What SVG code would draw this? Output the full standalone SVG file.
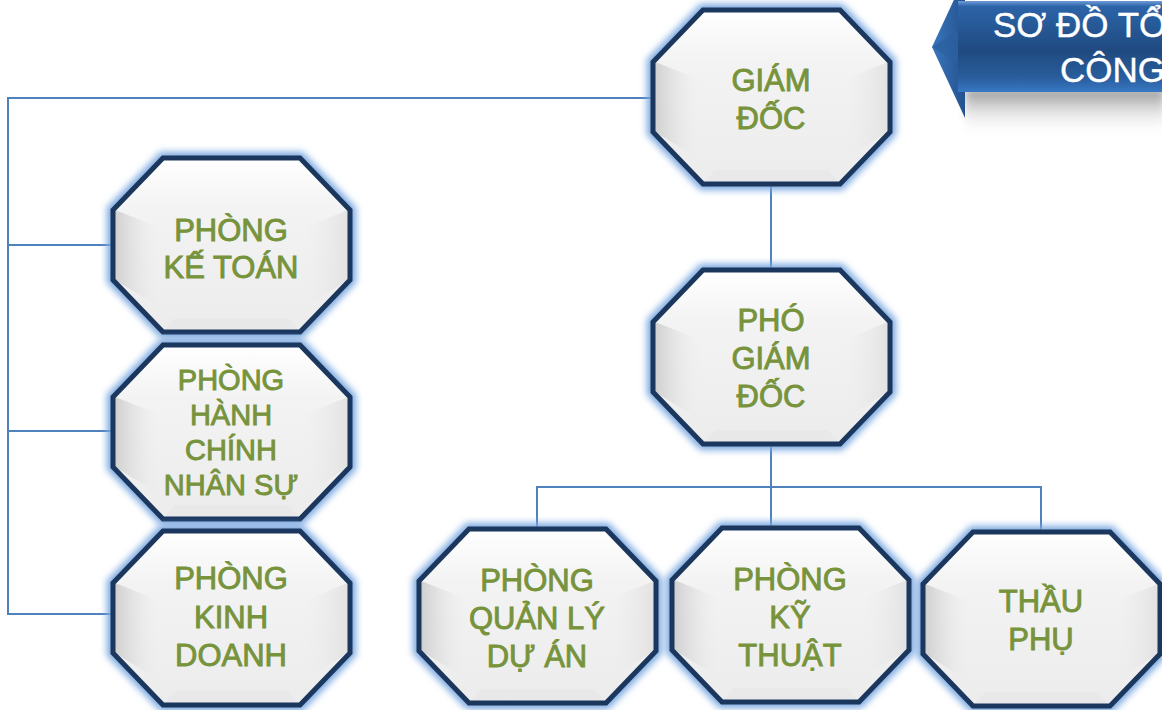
<svg xmlns="http://www.w3.org/2000/svg" xmlns:xlink="http://www.w3.org/1999/xlink" width="1162" height="710" viewBox="0 0 1162 710">
  <style>
    .conn { fill: none; stroke: #4F81BD; stroke-width: 2; }
    .lbl { font-family: "Liberation Sans", Arial, sans-serif; font-size: 31px; fill: #77933C; stroke: #77933C; stroke-width: 0.9; text-anchor: middle; }
    .lbl.sm { font-size: 29px; }
    .title { font-family: "Liberation Sans", Arial, sans-serif; font-size: 35px; fill: #FFFFFF; stroke: #FFFFFF; stroke-width: 0.4; }
  </style>
  <defs>
    <filter id="glow" x="-15%" y="-15%" width="130%" height="130%">
      <feGaussianBlur stdDeviation="3.5"/>
    </filter>
    <filter id="soft" x="-20%" y="-50%" width="140%" height="200%">
      <feGaussianBlur stdDeviation="5"/>
    </filter>
    <linearGradient id="baseFill" x1="0" y1="0" x2="0" y2="1">
      <stop offset="0" stop-color="#FFFFFF"/>
      <stop offset="0.3" stop-color="#F3F3F3"/>
      <stop offset="1" stop-color="#ECECEC"/>
    </linearGradient>
    <linearGradient id="leftFacet" x1="0" y1="0" x2="1" y2="0">
      <stop offset="0" stop-color="#CFCFCF"/>
      <stop offset="1" stop-color="#EDEDED" stop-opacity="0"/>
    </linearGradient>
    <linearGradient id="rightFacet" x1="1" y1="0" x2="0" y2="0">
      <stop offset="0" stop-color="#E2E2E2"/>
      <stop offset="1" stop-color="#EDEDED" stop-opacity="0"/>
    </linearGradient>
    <linearGradient id="barFill" x1="0" y1="0" x2="0" y2="1">
      <stop offset="0" stop-color="#6E9BD6"/>
      <stop offset="0.06" stop-color="#2C64A8"/>
      <stop offset="0.55" stop-color="#1F4A80"/>
      <stop offset="0.85" stop-color="#2A5E9E"/>
      <stop offset="1" stop-color="#3878C4"/>
    </linearGradient>
    <linearGradient id="headFill" x1="0" y1="0" x2="1" y2="0">
      <stop offset="0" stop-color="#3A76BE"/>
      <stop offset="1" stop-color="#24528E"/>
    </linearGradient>
    <linearGradient id="shadowFill" x1="0" y1="0" x2="0" y2="1">
      <stop offset="0" stop-color="#8C8C8C"/>
      <stop offset="1" stop-color="#FFFFFF" stop-opacity="0"/>
    </linearGradient>
    <g id="oct">
      <polygon points="50,0 187,0 237,52 237,122 187,174 50,174 0,122 0,52" fill="none" stroke="#7AA8E0" stroke-width="12" filter="url(#glow)"/>
      <polygon points="50,0 187,0 237,52 237,122 187,174 50,174 0,122 0,52" fill="url(#baseFill)"/>
      <polygon points="2,52 48,70 48,150 2,122" fill="url(#leftFacet)"/>
      <polygon points="235,52 190,70 190,150 235,122" fill="url(#rightFacet)"/>
      <polygon points="50,174 187,174 175,160 62,160" fill="#E6E6E6" opacity="0.6"/>
      <polygon points="50,0 187,0 237,52 237,122 187,174 50,174 0,122 0,52" fill="none" stroke="#1B375E" stroke-width="5" stroke-linejoin="miter"/>
    </g>
  </defs>

  <g id="connectors">
    <path class="conn" d="M653,98 H8 V614 H113"/>
    <path class="conn" d="M8,245 H113"/>
    <path class="conn" d="M8,431 H113"/>
    <path class="conn" d="M771,184 V270"/>
    <path class="conn" d="M771,444 V487"/>
    <path class="conn" d="M537,529 V487 H1041 V532"/>
    <path class="conn" d="M771,487 V528"/>
  </g>

  <g id="header">
    <rect x="965" y="88" width="200" height="48" fill="url(#shadowFill)" filter="url(#soft)"/>
    <polygon points="932,47 965,-24 965,118" fill="url(#headFill)"/>
    <polygon points="932,47 960,30 960,64" fill="#2B5FA0" opacity="0.7"/>
    <rect x="958" y="1" width="210" height="91" fill="url(#barFill)"/>
    <text class="title" x="993" y="37">SƠ ĐỒ TỔ CHỨC</text>
    <text class="title" x="1060" y="82">CÔNG TY</text>
  </g>

  <g id="giam-doc">
    <use xlink:href="#oct" x="653" y="10"/>
    <text class="lbl" x="771" y="91">GIÁM</text>
    <text class="lbl" x="771" y="129">ĐỐC</text>
  </g>

  <g id="pho-giam-doc">
    <use xlink:href="#oct" x="653" y="270"/>
    <text class="lbl" x="771" y="331">PHÓ</text>
    <text class="lbl" x="771" y="369">GIÁM</text>
    <text class="lbl" x="771" y="407">ĐỐC</text>
  </g>

  <g id="phong-ke-toan">
    <use xlink:href="#oct" x="113" y="158"/>
    <text class="lbl" x="231" y="241">PHÒNG</text>
    <text class="lbl" x="231" y="278">KẾ TOÁN</text>
  </g>

  <g id="phong-hcns">
    <use xlink:href="#oct" x="113" y="345"/>
    <text class="lbl sm" x="231" y="390">PHÒNG</text>
    <text class="lbl sm" x="231" y="425">HÀNH</text>
    <text class="lbl sm" x="231" y="460">CHÍNH</text>
    <text class="lbl sm" x="231" y="495">NHÂN SỰ</text>
  </g>

  <g id="phong-kinh-doanh">
    <use xlink:href="#oct" x="113" y="531"/>
    <text class="lbl" x="231" y="589">PHÒNG</text>
    <text class="lbl" x="231" y="628">KINH</text>
    <text class="lbl" x="231" y="666">DOANH</text>
  </g>

  <g id="phong-quan-ly-du-an">
    <use xlink:href="#oct" x="419" y="529"/>
    <text class="lbl" x="537" y="591">PHÒNG</text>
    <text class="lbl" x="537" y="629">QUẢN LÝ</text>
    <text class="lbl" x="537" y="667">DỰ ÁN</text>
  </g>

  <g id="phong-ky-thuat">
    <use xlink:href="#oct" x="672" y="528"/>
    <text class="lbl" x="790" y="590">PHÒNG</text>
    <text class="lbl" x="790" y="628">KỸ</text>
    <text class="lbl" x="790" y="666">THUẬT</text>
  </g>

  <g id="thau-phu">
    <use xlink:href="#oct" x="923" y="532"/>
    <text class="lbl" x="1041" y="612">THẦU</text>
    <text class="lbl" x="1041" y="650">PHỤ</text>
  </g>
</svg>
